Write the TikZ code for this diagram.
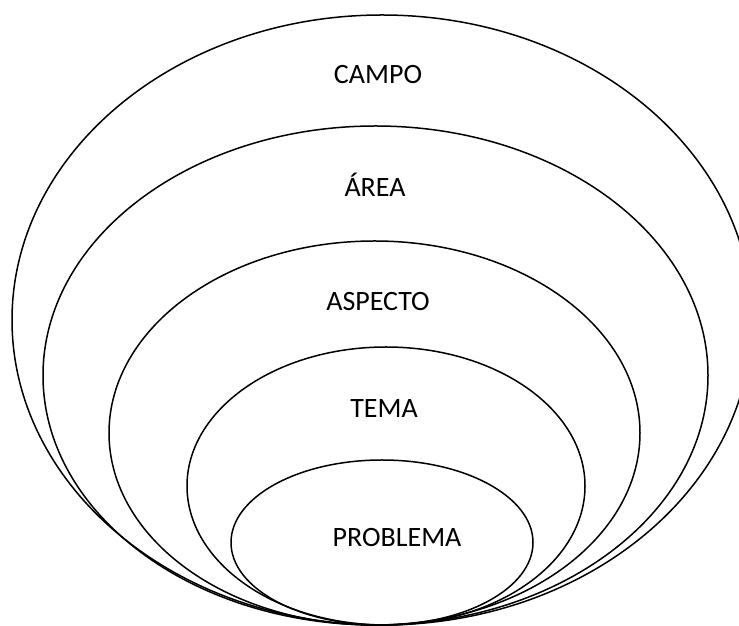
\documentclass[tikz,border=0pt]{standalone}
\usepackage{fontspec}
\setmainfont{Carlito}
\begin{document}
\begin{tikzpicture}[x=1pt,y=1pt,
  ring/.style={draw=black,line width=1.5pt},
  lbl/.style={anchor=base,inner sep=0pt,font=\fontsize{28}{34}\selectfont}]
\useasboundingbox (0,0) rectangle (739,626);
\begin{scope}
\clip (0,0) rectangle (739,626);
\draw[ring] (382,306) ellipse [x radius=370, y radius=305];
\draw[ring] (375.5,250.5) ellipse [x radius=332.5, y radius=249.5];
\draw[ring] (374.5,193) ellipse [x radius=265.5, y radius=192];
\draw[ring] (386,140) ellipse [x radius=199, y radius=139];
\draw[ring] (382,83.5) ellipse [x radius=151, y radius=82.5];
\end{scope}
\node[lbl] (campo) at (378,542.5) {CAMPO};
\node[lbl] (area) at (375,429.5) {ÁREA};
\node[lbl] (aspecto) at (378,315) {ASPECTO};
\node[lbl] (tema) at (384,208.5) {TEMA};
\node[lbl] (problema) at (397,79) {PROBLEMA};
\end{tikzpicture}
\end{document}
